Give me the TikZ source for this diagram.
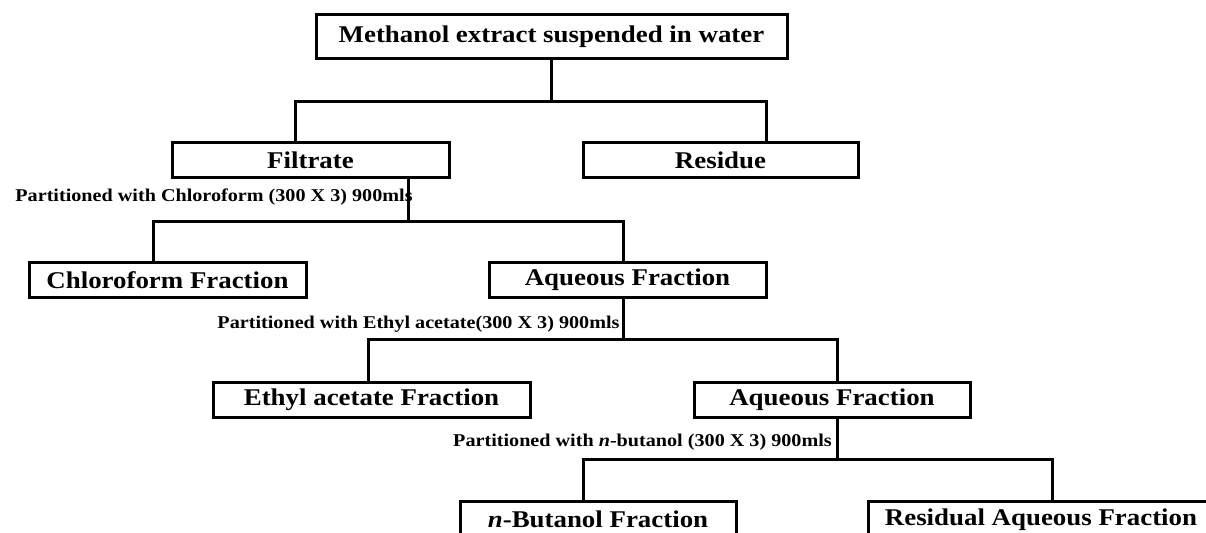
\documentclass[tikz,border=0pt]{standalone}
\usepackage{fontspec}
\setmainfont{Liberation Serif}[FakeStretch=1.12]
\usepackage{tikz}

\tikzset{
  box/.style={draw, line width=1.5pt, rectangle, inner sep=0pt, minimum height=17.5pt,
    font=\fontsize{12}{14}\selectfont\bfseries},
  lab/.style={inner sep=0pt, font=\fontsize{9}{11}\selectfont\bfseries},
  link/.style={line width=1.5pt}
}

\begin{document}
\begin{tikzpicture}[x=0.5pt, y=-0.5pt]
          \clip (0,0) rectangle (1206,533);
          \node[box, minimum width=235.5pt, minimum height=22pt] (meth) at (551.5,37) {Methanol extract suspended in water};
          \node[box, minimum width=138.5pt] (fil) at (310.5,160.5) {Filtrate};
          \node[box, minimum width=137.5pt] (res) at (720.5,160.5) {Residue};
          \node[lab] (lab1) at (214,197) {Partitioned with Chloroform (300 X 3) 900mls};
          \node[box, minimum width=138.5pt] (chl) at (167.5,280) {Chloroform Fraction};
          \node[box, minimum width=138.5pt] (aq1) at (627.5,280) {Aqueous Fraction};
          \node[lab] (lab2) at (418.5,324) {Partitioned with Ethyl acetate(300 X 3) 900mls};
          \node[box, minimum width=158.5pt] (eth) at (371.5,400) {Ethyl acetate Fraction};
          \node[box, minimum width=138pt] (aq2) at (832,400) {Aqueous Fraction};
          \node[lab] (lab3) at (642.5,442) {Partitioned with \textit{n}-butanol (300 X 3) 900mls};
          \node[box, minimum width=138pt] (but) at (598,519.5) {\textit{n}-Butanol Fraction};
          \node[box, minimum width=173pt] (resaq) at (1041,519.5) {Residual Aqueous Fraction};

          \draw[link] (meth.south) -- ++(0,41) coordinate (j1);
          \draw[link] ([xshift=-7.75pt]fil.north) |- (j1) -| ([xshift=22.75pt]res.north);
          \draw[link] ([xshift=48.75pt]fil.south) -- ++(0,42) coordinate (j2);
          \draw[link] ([xshift=-7.25pt]chl.north) |- (j2) -| ([xshift=-2.25pt]aq1.north);
          \draw[link] ([xshift=-2.25pt]aq1.south) -- ++(0,41) coordinate (j3);
          \draw[link] ([xshift=-1.75pt]eth.north) |- (j3) -| ([xshift=2.5pt]aq2.north);
          \draw[link] ([xshift=2.5pt]aq2.south) -- ++(0,41) coordinate (j4);
          \draw[link] ([xshift=-7.5pt]but.north) |- (j4) -| ([xshift=5.5pt]resaq.north);
        \end{tikzpicture}
\end{document}
